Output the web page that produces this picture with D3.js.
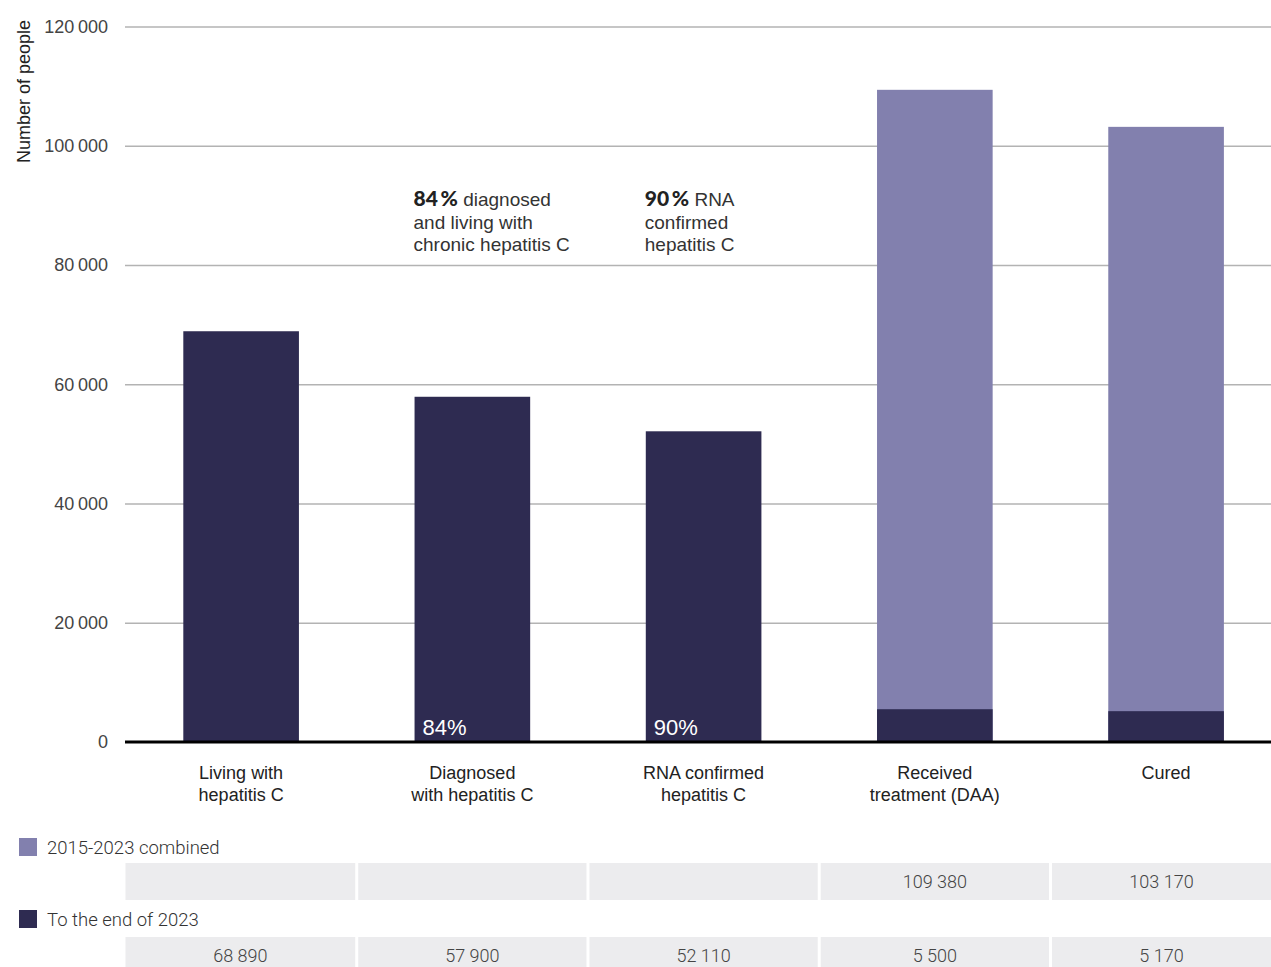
<!DOCTYPE html>
<html>
<head>
<meta charset="utf-8">
<script src="https://cdn.jsdelivr.net/npm/d3@7"></script>
<style>
  html, body { margin: 0; padding: 0; background: #fff; }
  svg { display: block; }
</style>
</head>
<body>
<script>
// Hepatitis C cascade of care
const categories = [
  ["Living with", "hepatitis C"],
  ["Diagnosed", "with hepatitis C"],
  ["RNA confirmed", "hepatitis C"],
  ["Received", "treatment (DAA)"],
  ["Cured"]
];
const combined2015to2023 = [null, null, null, 109380, 103170];
const toEndOf2023 = [68890, 57900, 52110, 5500, 5170];
const yTicks = [0, 20000, 40000, 60000, 80000, 100000, 120000];
const barPercent = [null, "84%", "90%", null, null];
const notes = [
  null,
  { bold: "84\u2009%", lines: [" diagnosed", "and living with", "chronic hepatitis C"] },
  { bold: "90\u2009%", lines: [" RNA", "confirmed", "hepatitis C"] },
  null, null
];
const seriesNames = ["2015-2023 combined", "To the end of 2023"];

const W = 1271, H = 967, LEFT = 125;
const DARK = "#2e2b51", LIGHT = "#8280ae", CELL = "#ececee";
const SANS = "'Liberation Sans', Arial, Helvetica, sans-serif";
const TABLE = "Roboto, sans-serif";

const svg = d3.select("body").append("svg").attr("width", W).attr("height", H);

const y = d3.scaleLinear().domain([0, 120000]).range([742, 26.5]);
const x = d3.scaleBand().domain(d3.range(categories.length))
  .range([125.5, 1281.7]).paddingInner(0.5).paddingOuter(0.25);
const cx = i => x(i) + x.bandwidth() / 2;

const fmt = v => d3.format(",")(v).replace(/,/g, "\u2009");

// gridlines + tick labels
const yAxis = svg.append("g").attr("transform", `translate(${LEFT},0)`)
  .call(d3.axisLeft(y).tickValues(yTicks).tickSize(-(W - LEFT)).tickPadding(17).tickFormat(fmt));
yAxis.select(".domain").remove();
yAxis.selectAll(".tick line").attr("stroke", "#b3b3b3").attr("stroke-width", 1.5)
  .filter(d => d === 0).attr("stroke", "none");
yAxis.selectAll(".tick text").attr("font-family", SANS).attr("font-size", 18)
  .attr("fill", "#444");

svg.append("text")
  .attr("transform", "translate(30,91.5) rotate(-90)")
  .attr("text-anchor", "middle")
  .attr("font-family", SANS).attr("font-size", 18).attr("fill", "#222")
  .text("Number of people");

// bars: combined total behind, to-end-of-2023 in front
svg.append("g").selectAll("rect")
  .data(combined2015to2023.map((v, i) => ({ v, i })).filter(d => d.v != null))
  .join("rect")
  .attr("x", d => x(d.i)).attr("width", x.bandwidth())
  .attr("y", d => y(d.v)).attr("height", d => y(0) - y(d.v))
  .attr("fill", LIGHT);

svg.append("g").selectAll("rect")
  .data(toEndOf2023.map((v, i) => ({ v, i })))
  .join("rect")
  .attr("x", d => x(d.i)).attr("width", x.bandwidth())
  .attr("y", d => y(d.v)).attr("height", d => y(0) - y(d.v))
  .attr("fill", DARK);

// baseline
svg.append("line").attr("x1", LEFT).attr("x2", W).attr("y1", y(0)).attr("y2", y(0))
  .attr("stroke", "#000").attr("stroke-width", 3);

// percentage inside bars
svg.append("g").selectAll("text")
  .data(barPercent.map((t, i) => ({ t, i })).filter(d => d.t))
  .join("text")
  .attr("x", d => x(d.i) + 8).attr("y", y(0) - 7)
  .attr("font-family", SANS).attr("font-size", 22).attr("fill", "#fff")
  .text(d => d.t);

// annotations above bars
notes.forEach((n, i) => {
  if (!n) return;
  const x0 = x(i) - 1;
  const t = svg.append("text").attr("x", x0).attr("y", 206)
    .attr("font-family", SANS).attr("font-size", 19).attr("fill", "#333");
  t.append("tspan")
    .attr("font-family", "Lato, 'Open Sans', sans-serif").attr("font-weight", 900)
    .attr("font-size", 21).attr("fill", "#222").text(n.bold);
  n.lines.forEach((line, k) => {
    const ts = t.append("tspan");
    if (k > 0) ts.attr("x", x0).attr("dy", 22.5);
    ts.text(line);
  });
});

// category labels
const cat = svg.append("g").selectAll("text").data(categories).join("text")
  .attr("x", (d, i) => cx(i)).attr("y", 779)
  .attr("text-anchor", "middle").attr("font-family", SANS).attr("font-size", 18)
  .attr("fill", "#222");
cat.selectAll("tspan").data(d => d).join("tspan")
  .attr("x", function () { return this.parentNode.getAttribute("x"); })
  .attr("dy", (d, k) => k === 0 ? 0 : 22)
  .text(d => d);

// data table: one cell per category, split midway between bars
const half = x.step() / 2;
const cellL = i => Math.max(LEFT, cx(i) - half + (i === 0 ? 0 : 1.5));
const cellR = i => Math.min(W, cx(i) + half - (i === categories.length - 1 ? 0 : 1.5));
const rows = [
  { name: seriesNames[0], color: LIGHT, values: combined2015to2023, legendY: 838, cellY: 863 },
  { name: seriesNames[1], color: DARK, values: toEndOf2023, legendY: 910, cellY: 937 }
];
rows.forEach(r => {
  svg.append("rect").attr("x", 19).attr("y", r.legendY).attr("width", 18).attr("height", 18)
    .attr("fill", r.color);
  svg.append("text").attr("x", 47).attr("y", r.legendY + 16)
    .attr("font-family", TABLE).attr("font-weight", 300).attr("font-size", 18.5)
    .attr("fill", "#333").text(r.name);
  const g = svg.append("g");
  g.selectAll("rect").data(r.values).join("rect")
    .attr("x", (d, i) => cellL(i))
    .attr("width", (d, i) => cellR(i) - cellL(i))
    .attr("y", r.cellY).attr("height", 37).attr("fill", CELL);
  g.selectAll("text").data(r.values).join("text")
    .attr("x", (d, i) => (cellL(i) + cellR(i)) / 2)
    .attr("y", r.cellY + 25)
    .attr("text-anchor", "middle")
    .attr("font-family", TABLE).attr("font-weight", 300).attr("font-size", 18)
    .attr("fill", "#444")
    .text(d => d == null ? "" : d3.format(",")(d).replace(/,/g, " "));
});
</script>
</body>
</html>
